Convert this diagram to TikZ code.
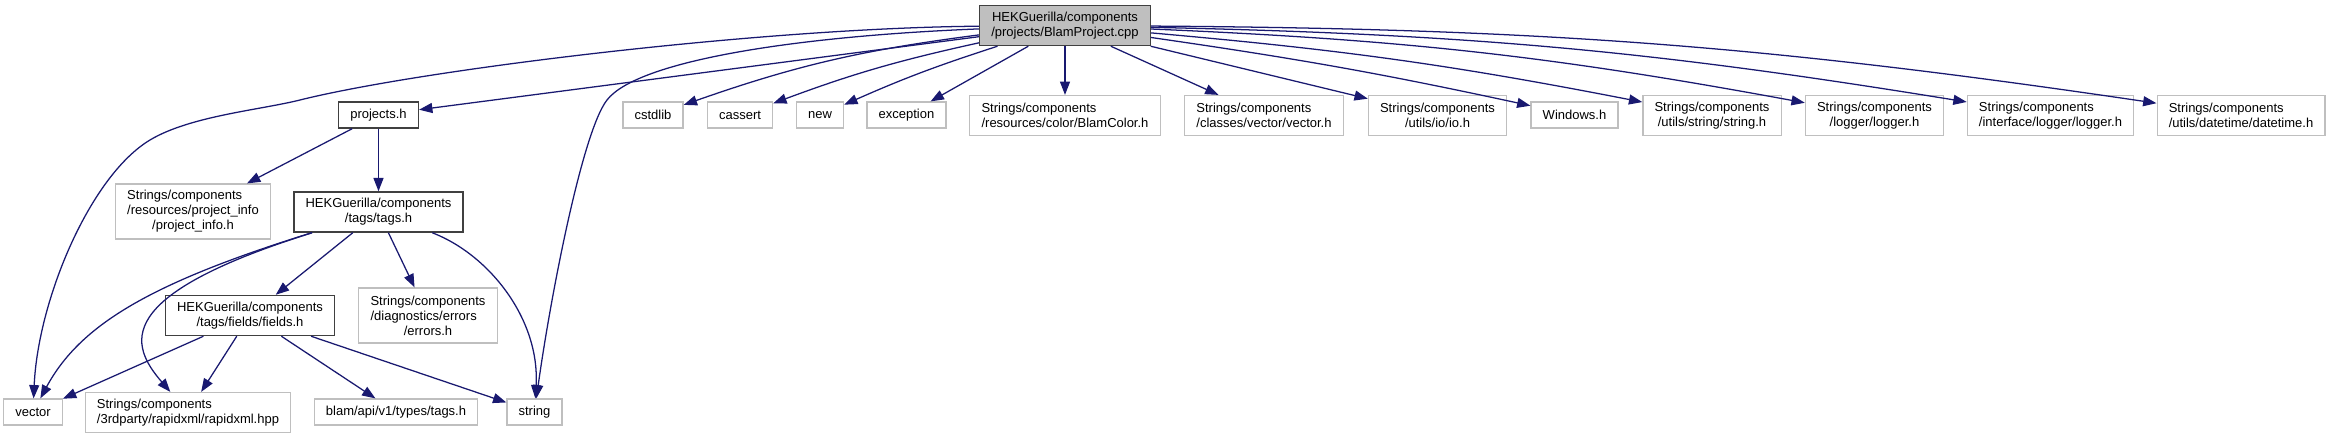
\documentclass[tikz,border=0pt]{standalone}
\usepackage{fontspec}
\setmainfont{Liberation Sans}
\usetikzlibrary{arrows.meta}
\definecolor{edgeblue}{HTML}{191970}
\definecolor{boxgray}{HTML}{BFBFBF}
\definecolor{boxdark}{HTML}{404040}

\begin{document}
\begin{tikzpicture}[x=0.75pt, y=-0.75pt,
	every node/.style={font=\fontsize{9.75pt}{11.25pt}\selectfont, inner xsep=8.75pt, inner ysep=2pt, align=center},
	incfile/.style={draw=boxgray, line width=0.9pt, fill=white, minimum height=19.5pt},
	ownfile/.style={draw=boxdark, line width=1.1pt, fill=white, minimum height=19.5pt},
	rootfile/.style={draw=boxdark, line width=1.1pt, fill=boxgray, minimum height=19.5pt},
	two/.style={minimum height=30pt},
	three/.style={minimum height=41.25pt},
	dep/.style={draw=edgeblue, line width=0.95pt, -{Triangle[length=10pt,width=7.5pt]}}]
			\useasboundingbox (0,0) rectangle (2331,439);
			
			\node[rootfile, two] (main) at (1065,25.5) {HEKGuerilla/components\\/projects/BlamProject.cpp};
			
			%% first row
			\node[ownfile] (projects) at (378.5,115) {projects.h};
			\node[incfile] (cstdlib) at (653,115) {cstdlib};
			\node[incfile] (cassert) at (740,115) {cassert};
			\node[incfile] (new) at (820,115) {new};
			\node[incfile] (exception) at (906.5,115) {exception};
			\node[incfile, two, align=left] (blamcolor) at (1065,115.5) {Strings/components\\/resources/color/BlamColor.h};
			\node[incfile, two, align=left] (vectorh) at (1264,115.5) {Strings/components\\/classes/vector/vector.h};
			\node[incfile, two] (ioh) at (1437.5,115.5) {Strings/components\\/utils/io/io.h};
			\node[incfile] (windows) at (1574.5,115) {Windows.h};
			\node[incfile, two] (stringh) at (1712,115.5) {Strings/components\\/utils/string/string.h};
			\node[incfile, two] (logger) at (1874.5,115.5) {Strings/components\\/logger/logger.h};
			\node[incfile, two, align=left] (ilogger) at (2050.5,115.5) {Strings/components\\/interface/logger/logger.h};
			\node[incfile, two, align=left] (datetime) at (2241,115.5) {Strings/components\\/utils/datetime/datetime.h};
			
			%% second row
			\node[incfile, three] (pinfo) at (193,211.5) {\rlap{Strings/components}\hphantom{/resources/project\_info}\\/resources/project\_info\\/project\_info.h};
			\node[ownfile, two] (tags) at (378.5,212) {HEKGuerilla/components\\/tags/tags.h};
			
			%% third row
			\node[ownfile, two] (fields) at (250,315.5) {HEKGuerilla/components\\/tags/fields/fields.h};
			\node[incfile, three] (errors) at (428,315.5) {Strings/components\\\rlap{/diagnostics/errors}\hphantom{Strings/components}\\/errors.h};
			
			%% bottom row
			\node[incfile] (vector) at (33,412) {vector};
			\node[incfile, two, align=left] (rapidxml) at (188,412.5) {Strings/components\\/3rdparty/rapidxml/rapidxml.hpp};
			\node[incfile] (blamtags) at (396,412) {blam/api/v1/types/tags.h};
			\node[incfile] (string) at (534.5,412) {string};
			
			%% includes of BlamProject.cpp
			\draw[dep] (main) .. controls (760,28) and (420,70) .. (300,100)
				.. controls (260,110) and (190,116) .. (150,140)
				.. controls (90,176) and (38,300) .. (vector);
			\draw[dep] (main) .. controls (800,36) and (638,60) .. (607,100)
				.. controls (582,132) and (550,300) .. (string);
			\draw[dep] (main) -- (projects);
			\draw[dep] (main) to[bend right=6] (cstdlib);
			\draw[dep] (main) to[bend right=4] (cassert);
			\draw[dep] (main) to[bend right=3] (new);
			\draw[dep] (main) -- (exception);
			\draw[dep] (main) -- (blamcolor);
			\draw[dep] (main) -- (vectorh);
			\draw[dep] (main) -- (ioh);
			\draw[dep] (main) to[bend left=2] (windows);
			\draw[dep] (main) to[bend left=3] (stringh);
			\draw[dep] (main) to[bend left=4] (logger);
			\draw[dep] (main) to[bend left=4] (ilogger);
			\draw[dep] (main) to[bend left=4] (datetime);
			
			%% projects.h
			\draw[dep] (projects) -- (pinfo);
			\draw[dep] (projects) -- (tags);
			
			%% tags.h
			\draw[dep] (tags) .. controls (150,283) and (80,325) .. (vector);
			\draw[dep] (tags) .. controls (110,296) and (130,345) .. (rapidxml);
			\draw[dep] (tags) -- (fields);
			\draw[dep] (tags) -- (errors);
			\draw[dep] (tags) .. controls (490,255) and (540,320) .. (string);
			
			%% fields.h
			\draw[dep] (fields) -- (vector);
			\draw[dep] (fields) -- (rapidxml);
			\draw[dep] (fields) -- (blamtags);
			\draw[dep] (fields) -- (string);
			
		\end{tikzpicture}
\end{document}
